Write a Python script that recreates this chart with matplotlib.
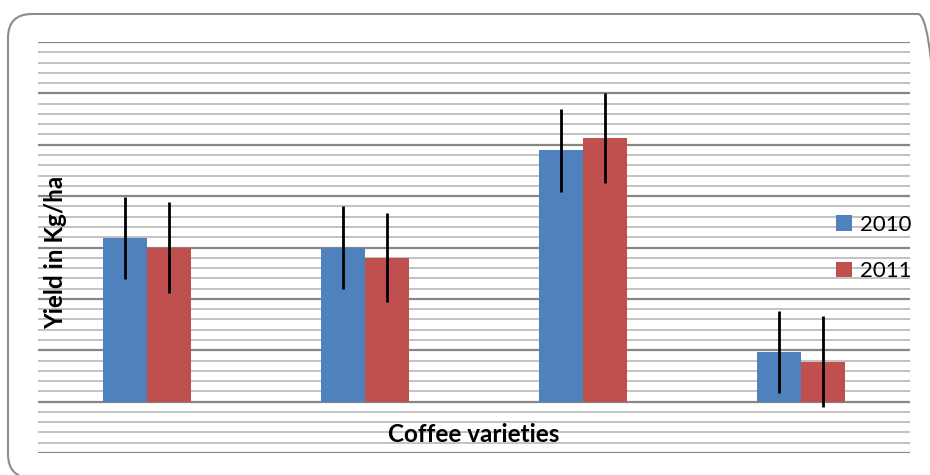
import numpy as np
import matplotlib
matplotlib.use("Agg")
import matplotlib.pyplot as plt
import matplotlib.patches as mpatches
from matplotlib.transforms import IdentityTransform

plt.rcParams['font.family'] = ['Lato', 'DejaVu Sans']

# data (no tick labels, units = one major gridline)
varieties = ['V1', 'V2', 'V3', 'V4']
years = ['2010', '2011']
yield_2010 = [3.19, 3.00, 4.89, 0.96]
yield_2011 = [3.00, 2.80, 5.13, 0.78]
err_2010 = [0.80, 0.80, 0.80, 0.80]
err_2011 = [0.89, 0.87, 0.88, 0.89]

blue = '#4F81BD'
red = '#C0504D'

fig = plt.figure(figsize=(9.3, 4.75), dpi=100)

# rounded frame round the chart
frame = mpatches.FancyBboxPatch((8, -3), 934, 464, boxstyle="round,pad=0,rounding_size=24",
                                transform=IdentityTransform(), facecolor='none',
                                edgecolor='#8c8c8c', linewidth=1.5, zorder=0)
fig.patches.append(frame)

ax = fig.add_axes([38/930, 22/475, 872/930, 411/475])
ax.patch.set_visible(False)
ax.set_zorder(2)

x = np.arange(len(varieties))
w = 0.2
b1 = ax.bar(x - w/2, yield_2010, w, color=blue, label=years[0], zorder=2)
b2 = ax.bar(x + w/2, yield_2011, w, color=red, label=years[1], zorder=2)
ax.errorbar(x - w/2, yield_2010, yerr=err_2010, fmt='none', ecolor='black', elinewidth=2, capsize=0, zorder=3)
ax.errorbar(x + w/2, yield_2011, yerr=err_2011, fmt='none', ecolor='black', elinewidth=2, capsize=0, zorder=3)

ax.set_xlim(-0.5, 3.5)
ax.set_ylim(-1, 7)
ax.set_yticks(np.arange(-1, 7.01, 1))
ax.set_yticks(np.arange(-1, 7.01, 0.2), minor=True)
ax.set_xticks([])
ax.tick_params(which='both', length=0, labelleft=False)
ax.grid(which='minor', axis='y', color='#bdbdbd', linewidth=1.3, zorder=0)
ax.grid(which='major', axis='y', color='#868686', linewidth=1.6, zorder=1)
ax.set_axisbelow(True)
for s in ax.spines.values():
    s.set_visible(False)

fig.text(474/930, 1 - 435/475, 'Coffee varieties', ha='center', va='center',
         fontsize=17.5, fontweight='bold', zorder=5)
fig.text(56/930, 1 - 252/475, 'Yield in Kg/ha', ha='center', va='center',
         rotation=90, fontsize=17.5, fontweight='bold', zorder=5)

ax.legend(handles=[b1, b2], loc='center left', bbox_to_anchor=(836/930, 1 - 248/475),
          bbox_transform=fig.transFigure, frameon=False, fontsize=16,
          handlelength=0.7, handleheight=0.7, handletextpad=0.4,
          labelspacing=1.2, borderpad=0, borderaxespad=0)

fig.savefig('out.png', dpi=100)
